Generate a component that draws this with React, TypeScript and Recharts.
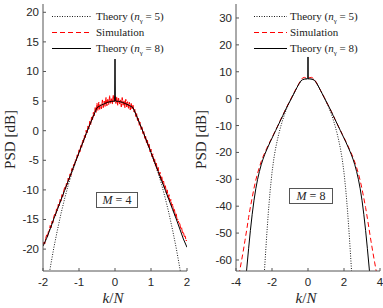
import React from 'react';
import { LineChart, Line, XAxis, YAxis, Legend } from 'recharts';

const SERIF = '"Liberation Serif", "Times New Roman", serif';
const SANS = '"Liberation Sans", Arial, sans-serif';
const AXIS = '#555555';
const INK = '#262626';

// ---- M = 4 panel ----
const m4XTicks = [-2, -1, 0, 1, 2];
const m4YTicks = [-20, -15, -10, -5, 0, 5, 10, 15, 20];

const m4Theory8K = [
  -2, -1.9, -1.8, -1.7, -1.6, -1.5, -1.4, -1.3, -1.2, -1.1, -1, -0.9, -0.8, -0.7, -0.6, -0.5, -0.4, -0.3, -0.2, -0.1,
  -0.01, 0, 0.01,
  0.1, 0.2, 0.3, 0.4, 0.5, 0.6, 0.7, 0.8, 0.9, 1, 1.1, 1.2, 1.3, 1.4, 1.5, 1.6, 1.7, 1.8, 1.9, 2,
];
const m4Theory8 = [
  -19.5, -18.2, -16.6, -14.9, -13.3, -11.7, -10.1, -8.5, -6.9, -5.3, -3.7, -2.1, -0.5, 1.0, 2.5, 3.9, 4.25, 4.55, 4.8, 4.95,
  5.0, 12.1, 5.0,
  4.95, 4.8, 4.55, 4.25, 3.9, 2.5, 1.0, -0.5, -2.1, -3.7, -5.3, -6.9, -8.5, -10.1, -11.7, -13.3, -14.9, -16.6, -18.3, -19.7,
];

const m4Theory5K = [
  -2, -1.9, -1.8, -1.7, -1.6, -1.5, -1.4, -1.3, -1.2, -1.1, -1, -0.9, -0.8, -0.7, -0.6, -0.5, -0.4, -0.3, -0.2, -0.1,
  0,
  0.1, 0.2, 0.3, 0.4, 0.5, 0.6, 0.7, 0.8, 0.9, 1, 1.1, 1.2, 1.3, 1.4, 1.5, 1.6, 1.7, 1.8, 1.9, 2,
];
const m4Theory5 = [
  -31.0, -27.0, -23.2, -19.8, -16.8, -14.0, -11.5, -9.2, -7.2, -5.4, -3.7, -2.1, -0.5, 1.0, 2.5, 3.9, 4.25, 4.55, 4.8, 4.95,
  5.0,
  4.95, 4.8, 4.55, 4.25, 3.9, 2.5, 1.0, -0.5, -2.1, -3.7, -5.4, -7.2, -9.2, -11.5, -14.0, -16.8, -19.8, -23.2, -27.0, -31.0,
];

const m4SimK = [
  -2, -1.975, -1.95, -1.925, -1.9, -1.875, -1.85, -1.825, -1.8, -1.775,
  -1.75, -1.725, -1.7, -1.675, -1.65, -1.625, -1.6, -1.575, -1.55, -1.525,
  -1.5, -1.475, -1.45, -1.425, -1.4, -1.375, -1.35, -1.325, -1.3, -1.275,
  -1.25, -1.225, -1.2, -1.175, -1.15, -1.125, -1.1, -1.075, -1.05, -1.025,
  -1, -0.975, -0.95, -0.925, -0.9, -0.875, -0.85, -0.825, -0.8, -0.775,
  -0.75, -0.725, -0.7, -0.675, -0.65, -0.625, -0.6, -0.575, -0.55, -0.525,
  -0.5, -0.475, -0.45, -0.425, -0.4, -0.375, -0.35, -0.325, -0.3, -0.275,
  -0.25, -0.225, -0.2, -0.175, -0.15, -0.125, -0.1, -0.075, -0.05, -0.025,
  0,
  0.025, 0.05, 0.075, 0.1, 0.125, 0.15, 0.175, 0.2, 0.225, 0.25,
  0.275, 0.3, 0.325, 0.35, 0.375, 0.4, 0.425, 0.45, 0.475, 0.5,
  0.525, 0.55, 0.575, 0.6, 0.625, 0.65, 0.675, 0.7, 0.725, 0.75,
  0.775, 0.8, 0.825, 0.85, 0.875, 0.9, 0.925, 0.95, 0.975, 1,
  1.025, 1.05, 1.075, 1.1, 1.125, 1.15, 1.175, 1.2, 1.225, 1.25,
  1.275, 1.3, 1.325, 1.35, 1.375, 1.4, 1.425, 1.45, 1.475, 1.5,
  1.525, 1.55, 1.575, 1.6, 1.625, 1.65, 1.675, 1.7, 1.725, 1.75,
  1.775, 1.8, 1.825, 1.85, 1.875, 1.9, 1.925, 1.95, 1.975, 2,
];
const m4Sim = [
  -19.4, -18.8, -19.1, -18.2, -17.6, -18.0, -17.0, -16.9, -16.0, -16.4,
  -15.3, -15.6, -14.5, -14.1, -14.4, -13.2, -13.5, -12.4, -12.7, -11.6,
  -11.9, -10.8, -11.1, -10.2, -9.6, -9.9, -8.9, -9.1, -8.0, -8.3,
  -7.3, -7.6, -6.4, -6.7, -5.7, -5.9, -4.9, -5.1, -4.0, -4.3,
  -3.2, -3.6, -2.4, -2.8, -1.6, -2.0, -0.8, -1.2, 0.1, -0.4,
  0.8, 0.3, 1.6, 1.0, 2.4, 1.8, 3.1, 2.5, 3.9, 3.1,
  4.6, 3.4, 4.8, 3.6, 4.4, 3.7, 5.2, 3.9, 5.0, 4.1,
  5.6, 4.2, 5.3, 4.4, 5.9, 4.6, 5.4, 4.5, 6.0, 4.9,
  5.8,
  4.6, 5.7, 4.3, 5.5, 4.5, 5.2, 4.0, 5.6, 4.3, 5.1,
  3.9, 5.3, 4.0, 4.9, 3.7, 4.8, 3.5, 4.6, 3.6, 4.3,
  3.2, 3.6, 2.4, 2.9, 1.7, 2.1, 0.9, 1.4, 0.2, 0.7,
  -0.5, -0.1, -1.3, -0.9, -2.1, -1.6, -2.8, -2.3, -3.6, -3.1,
  -4.4, -3.9, -5.2, -4.7, -6.0, -5.5, -6.8, -6.2, -7.5, -7.0,
  -8.3, -7.7, -9.0, -8.5, -9.8, -9.3, -10.5, -10.0, -11.3, -10.8,
  -12.0, -11.6, -12.8, -12.4, -13.6, -13.2, -14.4, -14.0, -15.1, -15.0,
  -15.6, -15.7, -16.6, -16.4, -17.3, -17.1, -17.9, -17.8, -18.6, -18.5,
];

// ---- M = 8 panel ----
const m8XTicks = [-4, -2, 0, 2, 4];
const m8YTicks = [-60, -50, -40, -30, -20, -10, 0, 10, 20, 30];

const m8Theory8K = [
  -3.5, -3.4, -3.3, -3.2, -3.1, -3, -2.9, -2.8, -2.7, -2.6, -2.5, -2.4, -2.3, -2.2, -2.1, -2, -1.9, -1.8, -1.7, -1.6,
  -1.5, -1.4, -1.3, -1.2, -1.1, -1, -0.9, -0.8, -0.7, -0.6, -0.5, -0.4, -0.35, -0.3, -0.2, -0.1,
  -0.01, 0, 0.01,
  0.1, 0.2, 0.3, 0.35, 0.4, 0.5, 0.6, 0.7, 0.8, 0.9, 1, 1.1, 1.2, 1.3, 1.4, 1.5,
  1.6, 1.7, 1.8, 1.9, 2, 2.1, 2.2, 2.3, 2.4, 2.5, 2.6, 2.7, 2.8, 2.9, 3, 3.1, 3.2, 3.3, 3.4, 3.5,
];
const m8Theory8 = [
  -70.5, -63.0, -55.8, -49.0, -43.0, -37.8, -33.5, -30.0, -27.1, -24.6, -22.5, -20.7, -19.1, -17.6, -16.1, -14.7, -13.3, -11.9, -10.5, -9.1,
  -7.7, -6.3, -4.9, -3.5, -2.2, -0.9, 0.4, 1.7, 3.0, 4.3, 5.5, 6.5, 6.9, 7.05, 7.25, 7.35,
  7.4, 15.5, 7.4,
  7.35, 7.25, 7.05, 6.9, 6.5, 5.5, 4.3, 3.0, 1.7, 0.4, -0.9, -2.2, -3.5, -4.9, -6.3, -7.7,
  -9.1, -10.5, -11.9, -13.3, -14.7, -16.1, -17.6, -19.1, -20.7, -22.5, -24.6, -27.1, -30.0, -33.5, -37.8, -43.0, -49.0, -55.8, -63.0, -70.5,
];

const m8Theory5K = [
  -2.5, -2.4, -2.3, -2.2, -2.1, -2, -1.9, -1.8, -1.7, -1.6, -1.5, -1.4, -1.3, -1.2, -1.1, -1, -0.9, -0.8, -0.7, -0.6,
  -0.5, -0.4, -0.3, -0.2, -0.1,
  0,
  0.1, 0.2, 0.3, 0.4, 0.5, 0.6, 0.7, 0.8, 0.9, 1, 1.1, 1.2, 1.3, 1.4, 1.5, 1.6, 1.7, 1.8, 1.9, 2,
  2.1, 2.2, 2.3, 2.4, 2.5,
];
const m8Theory5 = [
  -73, -62, -51.5, -42, -34, -27.5, -22.4, -18.5, -15.3, -12.5, -10.0, -7.8, -5.8, -4.0, -2.4, -0.9, 0.4, 1.7, 3.0, 4.3,
  5.5, 6.5, 7.05, 7.25, 7.35,
  7.4,
  7.35, 7.25, 7.05, 6.5, 5.5, 4.3, 3.0, 1.7, 0.4, -0.9, -2.4, -4.0, -5.8, -7.8, -10.0, -12.5, -15.3, -18.5, -22.4, -27.5,
  -34, -42, -51.5, -62, -73,
];

const m8SimK = [
  -4, -3.9, -3.8, -3.7, -3.6, -3.5, -3.4, -3.3, -3.2, -3.1, -3, -2.9, -2.8, -2.7, -2.6, -2.5, -2.4, -2.3, -2.2, -2.1,
  -2, -1.9, -1.8, -1.7, -1.6, -1.5, -1.4, -1.3, -1.2, -1.1, -1, -0.9, -0.8, -0.7, -0.6, -0.5, -0.4, -0.3, -0.2, -0.1,
  0,
  0.1, 0.2, 0.3, 0.4, 0.5, 0.6, 0.7, 0.8, 0.9, 1, 1.1, 1.2, 1.3, 1.4, 1.5, 1.6, 1.7, 1.8, 1.9, 2,
  2.1, 2.2, 2.3, 2.4, 2.5, 2.6, 2.7, 2.8, 2.9, 3, 3.1, 3.2, 3.3, 3.4, 3.5, 3.6, 3.7, 3.8, 3.9, 4,
];
const m8Sim = [
  -71.5, -67.5, -64.2, -60.6, -56.8, -52.7, -48.6, -44.2, -40.3, -36.8, -33.3, -30.3, -27.7, -25.5, -23.4, -21.6, -20.1, -18.6, -17.2, -15.8,
  -14.6, -13.1, -11.7, -10.4, -8.9, -7.5, -6.2, -4.7, -3.4, -2.0, -0.8, 0.6, 1.8, 3.2, 4.4, 5.7, 6.9, 7.7, 7.9, 7.6,
  8.0,
  7.8, 7.9, 7.5, 6.8, 5.5, 4.3, 3.0, 1.7, 0.5, -0.9, -2.2, -3.5, -4.8, -6.2, -7.7, -9.0, -10.5, -11.8, -13.2, -14.5,
  -15.9, -17.3, -18.8, -20.2, -21.8, -23.6, -25.6, -27.9, -30.5, -33.5, -37.0, -40.5, -44.5, -48.8, -53.0, -57.0, -60.8, -64.5, -68.0, -72.0,
];

type Pt = { k: number; v: number };
const pts = (ks: number[], vs: number[]): Pt[] => ks.map((k, i) => ({ k, v: vs[i] }));

// inward MATLAB-style ticks: tickSize/tickMargin are 0, so x/y sit on the axis line
const LeftTick = ({ x, y, payload }: any) => (
  <g>
    <line x1={x} x2={x + 3} y1={y} y2={y} stroke={AXIS} />
    <text x={x - 4} y={y} textAnchor="end" dominantBaseline="central" fontFamily={SANS} fontSize={11.5} fill={INK}>
      {payload.value}
    </text>
  </g>
);
const RightTick = ({ x, y }: any) => <line x1={x - 3} x2={x} y1={y} y2={y} stroke={AXIS} />;
const BottomTick = ({ x, y, payload }: any) => (
  <g>
    <line x1={x} x2={x} y1={y} y2={y - 3} stroke={AXIS} />
    <text x={x} y={y + 11} textAnchor="middle" dominantBaseline="central" fontFamily={SANS} fontSize={11.5} fill={INK}>
      {payload.value}
    </text>
  </g>
);
const TopTick = ({ x, y }: any) => <line x1={x} x2={x} y1={y} y2={y + 3} stroke={AXIS} />;

const legendRows = [
  { order: 5, stroke: '#000', dash: '1 1.5', width: 0.9 },
  { order: 0, stroke: '#ff0000', dash: '5 3', width: 1 },
  { order: 8, stroke: '#000', dash: undefined, width: 1 },
];

const LegendBox = ({ lineLen, gap }: { lineLen: number; gap: number }) => (
  <div style={{ fontFamily: SERIF, fontSize: 11, color: '#1a1a1a' }}>
    {legendRows.map((r) => (
      <div key={r.order} style={{ display: 'flex', alignItems: 'center', height: 16 }}>
        <svg width={lineLen} height={16} style={{ display: 'block' }}>
          <line x1={0} x2={lineLen} y1={8.5} y2={8.5} stroke={r.stroke} strokeWidth={r.width} strokeDasharray={r.dash} />
        </svg>
        <span style={{ marginLeft: gap, whiteSpace: 'nowrap' }}>
          {r.order ? (
            <>
              Theory (<i>n</i>
              <sub style={{ fontSize: 7, lineHeight: 0 }}>γ</sub> = {r.order})
            </>
          ) : (
            'Simulation'
          )}
        </span>
      </div>
    ))}
  </div>
);

type PanelProps = {
  left: number;
  width: number;
  yAxisWidth: number;
  marginRight: number;
  xDomain: [number, number];
  xTicks: number[];
  yDomain: [number, number];
  yTicks: number[];
  dotted: Pt[];
  sim: Pt[];
  solid: Pt[];
  simDash: string;
  titleX: number;
  legendLeft: number;
  legendLine: number;
  legendGap: number;
  order: number;
  tag: { left: number; top: number; width: number };
};

const Panel = (p: PanelProps) => {
  const xTitle = ({ viewBox }: any) => (
    <text x={viewBox.x + viewBox.width / 2 - 2} y={viewBox.y + 32} textAnchor="middle" fontFamily={SERIF} fontSize={15} fill={INK}>
      <tspan fontStyle="italic">k</tspan>/<tspan fontStyle="italic">N</tspan>
    </text>
  );
  const yTitle = ({ viewBox }: any) => {
    const cy = viewBox.y + viewBox.height / 2 + 2;
    return (
      <text
        x={p.titleX}
        y={cy}
        transform={`rotate(-90 ${p.titleX} ${cy})`}
        textAnchor="middle"
        dominantBaseline="central"
        fontFamily={SERIF}
        fontSize={15}
        fill={INK}
      >
        PSD [dB]
      </text>
    );
  };

  return (
    <div style={{ position: 'absolute', left: p.left, top: 0, width: p.width, height: 308 }}>
      <LineChart width={p.width} height={308} margin={{ top: 4, right: p.marginRight, bottom: 0, left: 0 }}>
        <XAxis
          dataKey="k"
          type="number"
          domain={p.xDomain}
          ticks={p.xTicks}
          interval={0}
          allowDataOverflow
          height={37}
          tickSize={0}
          tickMargin={0}
          tickLine={false}
          axisLine={{ stroke: AXIS }}
          tick={BottomTick}
          label={xTitle}
        />
        <XAxis
          xAxisId="top"
          orientation="top"
          type="number"
          domain={p.xDomain}
          ticks={p.xTicks}
          interval={0}
          allowDataOverflow
          height={0}
          tickSize={0}
          tickMargin={0}
          tickLine={false}
          axisLine={{ stroke: AXIS }}
          tick={TopTick}
        />
        <YAxis
          type="number"
          domain={p.yDomain}
          ticks={p.yTicks}
          interval={0}
          allowDataOverflow
          width={p.yAxisWidth}
          tickSize={0}
          tickMargin={0}
          tickLine={false}
          axisLine={{ stroke: AXIS }}
          tick={LeftTick}
          label={yTitle}
        />
        <YAxis
          yAxisId="r"
          orientation="right"
          type="number"
          domain={p.yDomain}
          ticks={p.yTicks}
          interval={0}
          allowDataOverflow
          width={0}
          tickSize={0}
          tickMargin={0}
          tickLine={false}
          axisLine={{ stroke: AXIS }}
          tick={RightTick}
        />
        <Legend
          layout="vertical"
          align="center"
          verticalAlign="middle"
          wrapperStyle={{ left: p.legendLeft, top: 8, width: 'auto' }}
          content={() => <LegendBox lineLen={p.legendLine} gap={p.legendGap} />}
        />
        <Line data={p.dotted} dataKey="v" type="linear" stroke="#000" strokeWidth={0.9} strokeDasharray="1 1.5" dot={false} isAnimationActive={false} />
        <Line data={p.sim} dataKey="v" type="linear" stroke="#ff0000" strokeWidth={1} strokeDasharray={p.simDash} dot={false} isAnimationActive={false} />
        <Line data={p.solid} dataKey="v" type="linear" stroke="#000" strokeWidth={1} dot={false} isAnimationActive={false} />
      </LineChart>
      <div
        style={{
          position: 'absolute',
          left: p.tag.left,
          top: p.tag.top,
          width: p.tag.width,
          height: 16,
          boxSizing: 'border-box',
          border: `1px solid ${AXIS}`,
          background: '#fff',
          fontFamily: SERIF,
          fontSize: 12,
          color: INK,
          display: 'flex',
          alignItems: 'center',
          justifyContent: 'center',
        }}
      >
        <span>
          <i>M</i> = {p.order}
        </span>
      </div>
    </div>
  );
};

export default function App() {
  return (
    <div style={{ position: 'fixed', left: 0, top: 0, width: 383, height: 308, background: '#fff', overflow: 'hidden' }}>
      <Panel
        left={0}
        width={192}
        yAxisWidth={43}
        marginRight={5}
        xDomain={[-2, 2]}
        xTicks={m4XTicks}
        yDomain={[-23.7, 21.4]}
        yTicks={m4YTicks}
        dotted={pts(m4Theory5K, m4Theory5)}
        sim={pts(m4SimK, m4Sim)}
        solid={pts(m4Theory8K, m4Theory8)}
        simDash="8 1"
        titleX={10}
        legendLeft={52}
        legendLine={39}
        legendGap={5}
        order={4}
        tag={{ left: 96, top: 192, width: 42 }}
      />
      <Panel
        left={192}
        width={191}
        yAxisWidth={44}
        marginRight={3}
        xDomain={[-4, 4]}
        xTicks={m8XTicks}
        yDomain={[-64.1, 35.2]}
        yTicks={m8YTicks}
        dotted={pts(m8Theory5K, m8Theory5)}
        sim={pts(m8SimK, m8Sim)}
        solid={pts(m8Theory8K, m8Theory8)}
        simDash="5 3"
        titleX={9}
        legendLeft={62}
        legendLine={33}
        legendGap={3}
        order={8}
        tag={{ left: 97, top: 188, width: 44 }}
      />
    </div>
  );
}
